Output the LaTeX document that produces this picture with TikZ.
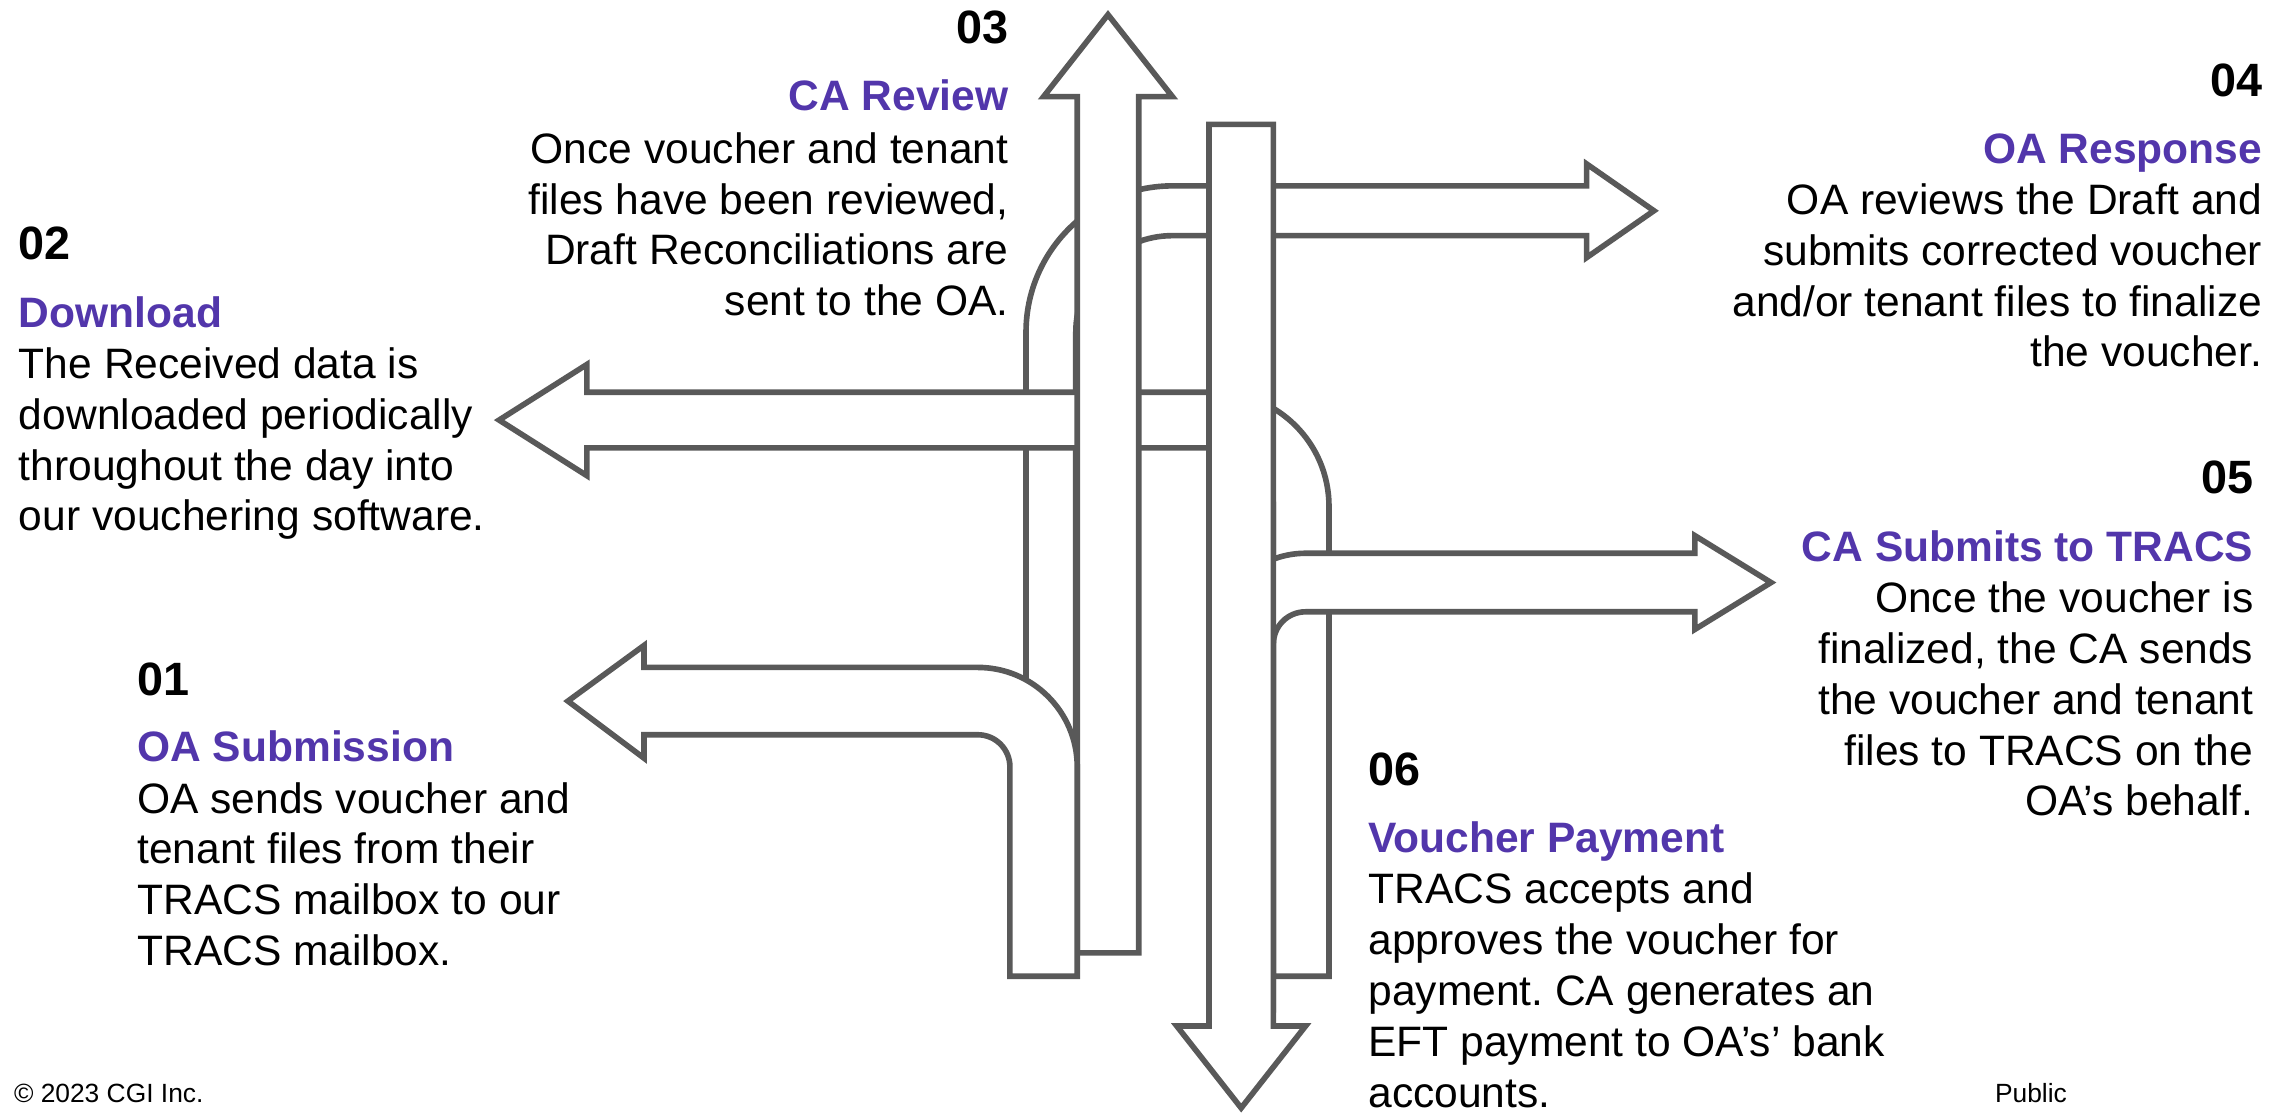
\documentclass[tikz,border=0pt]{standalone}
\usepackage{fontspec}
\setmainfont{Liberation Sans}
\definecolor{arrowgray}{RGB}{89,89,89}
\definecolor{cgipurple}{RGB}{82,54,171}
\frenchspacing
\begin{document}
\begin{tikzpicture}[x=0.0146365cm, y=-0.0146365cm,
  band/.style={draw=arrowgray, fill=white, line width=1.6pt},
  num/.style={font=\fontsize{13.3}{16}\selectfont\bfseries, inner sep=0pt},
  heading/.style={font=\fontsize{12.1}{14.5}\selectfont\bfseries, text=cgipurple, inner sep=0pt},
  body/.style={font=\fontsize{12.1}{14.46}\selectfont, inner sep=0pt},
  foot/.style={font=\fontsize{7.5}{9}\selectfont, inner sep=0pt, anchor=base west}]
\useasboundingbox (0,0) rectangle (1568,760.4);

% band 04 (right arrow rising from below)
\draw[band] (701,660) -- (701,227) .. controls (701,171.8) and (745.8,127) .. (801,127)
  -- (1084,127) -- (1084,112) -- (1130,144) -- (1084,176) -- (1084,161) -- (801,161)
  .. controls (764.5,161) and (735,190.5) .. (735,227) -- (735,660) -- cycle;

% band 02 (left arrow rising from below)
\draw[band] (908,667) -- (908,346) .. controls (908,302.9) and (873.1,268) .. (830,268)
  -- (401,268) -- (401,249) -- (341,287) -- (401,325) -- (401,306) -- (830,306)
  .. controls (852.1,306) and (870,323.9) .. (870,346) -- (870,667) -- cycle;

% band 05 (right arrow)
\draw[band] (830,690) -- (830,440) .. controls (830,405.8) and (857.8,378) .. (892,378)
  -- (1158,378) -- (1158,366) -- (1210,398) -- (1158,430) -- (1158,418) -- (892,418)
  .. controls (879.8,418) and (870,427.8) .. (870,440) -- (870,690) -- cycle;

% up arrow 03
\draw[band] (736,651) -- (736,66) -- (713,66) -- (757,10) -- (801,66) -- (778,66) -- (778,651) -- cycle;

% down arrow 06
\draw[band] (826,85) -- (870,85) -- (870,701) -- (892,701) -- (848,757) -- (804,701) -- (826,701) -- cycle;

% arrow 01
\draw[band] (736,667) -- (736,524) .. controls (736,486.4) and (705.6,456) .. (668,456)
  -- (440,456) -- (440,441) -- (388,479) -- (440,518) -- (440,502) -- (668,502)
  .. controls (680.2,502) and (690,511.8) .. (690,524) -- (690,667) -- cycle;

% texts 01
\node[num, anchor=base west] (n01) at (93.4,475) {01};
\node[heading, anchor=base west] (h01) at (93.4,520.6) {OA Submission};
\node[body, anchor=base west] (b01) at (93.4,555.5) {\begin{tabular}[t]{@{}l@{}}OA sends voucher and\\tenant files from their\\TRACS mailbox to our\\TRACS mailbox.\end{tabular}};

% texts 02
\node[num, anchor=base west] (n02) at (12.5,177.6) {02};
\node[heading, anchor=base west] (h02) at (12.5,223.6) {Download};
\node[body, anchor=base west] (b02) at (12.5,258.5) {\begin{tabular}[t]{@{}l@{}}The Received data is\\downloaded periodically\\throughout the day into\\our vouchering software.\end{tabular}};

% texts 03
\node[num, anchor=base east] (n03) at (689.5,29.5) {03};
\node[heading, anchor=base east] (h03) at (689.5,75.6) {CA Review};
\node[body, anchor=base east] (b03) at (689.5,111.5) {\begin{tabular}[t]{@{}r@{}}Once voucher and tenant\\files have been reviewed,\\Draft Reconciliations are\\sent to the OA.\end{tabular}};

% texts 04
\node[num, anchor=base east] (n04) at (1546,65.6) {04};
\node[heading, anchor=base east] (h04) at (1546,111.6) {OA Response};
\node[body, anchor=base east] (b04) at (1546,146.5) {\begin{tabular}[t]{@{}r@{}}OA reviews the Draft and\\submits corrected voucher\\and/or tenant files to finalize\\the voucher.\end{tabular}};

% texts 05
\node[num, anchor=base east] (n05) at (1540,337.5) {05};
\node[heading, anchor=base east] (h05) at (1540,383.5) {CA Submits to TRACS};
\node[body, anchor=base east] (b05) at (1540,418.5) {\begin{tabular}[t]{@{}r@{}}Once the voucher is\\finalized, the CA sends\\the voucher and tenant\\files to TRACS on the\\OA’s behalf.\end{tabular}};

% texts 06
\node[num, anchor=base west] (n06) at (934.5,536.5) {06};
\node[heading, anchor=base west] (h06) at (934.5,582.5) {Voucher Payment};
\node[body, anchor=base west] (b06) at (934.5,617.5) {\begin{tabular}[t]{@{}l@{}}TRACS accepts and\\approves the voucher for\\payment. CA generates an\\EFT payment to OA’s’ bank\\accounts.\end{tabular}};

% footer
\node[foot] (copy) at (9.1,753.4) {© 2023 CGI Inc.};
\node[foot] (pub) at (1362.6,753.4) {Public};
\end{tikzpicture}
\end{document}
